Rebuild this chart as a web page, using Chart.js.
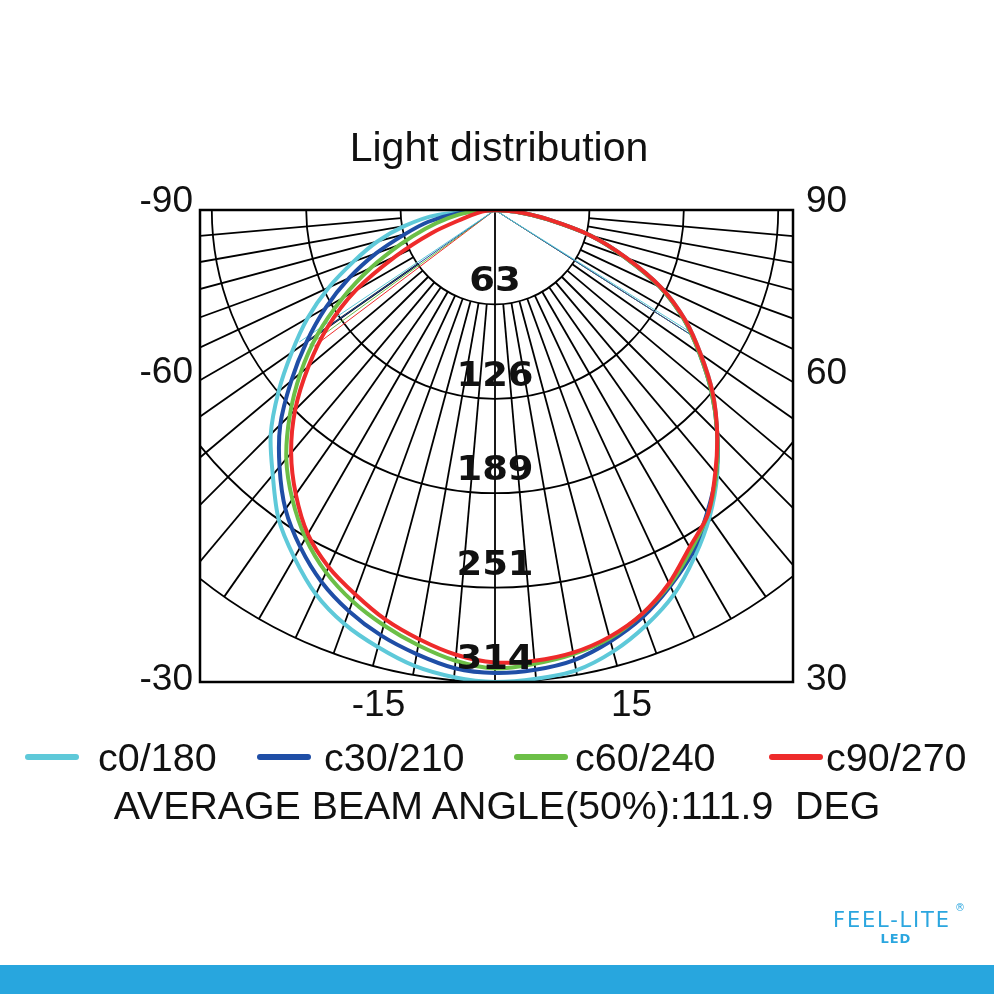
<!DOCTYPE html>
<html>
<head>
<meta charset="utf-8">
<title>Light distribution</title>
<script src="https://cdn.jsdelivr.net/npm/chart.js@4.4.1/dist/chart.umd.min.js"></script>
<style>
  html, body { margin: 0; padding: 0; background: #fff; }
  body { width: 994px; height: 994px; position: relative; overflow: hidden; font-family: "Liberation Sans", Arial, sans-serif; color: #111; }
  #chart { position: absolute; left: 0; top: 0; }
  .title { position: absolute; left: 0; width: 994px; top: 123px; text-align: center; font-size: 41px; line-height: 48px; padding-left: 2px; }
  .legend-line { position: absolute; height: 6px; width: 54px; border-radius: 3px; top: 754px; }
  .legend-text { position: absolute; top: 736px; font-size: 39.5px; line-height: 42px; white-space: nowrap; }
  .footer { position: absolute; left: 0; width: 994px; top: 784px; text-align: center; font-size: 39.3px; line-height: 42px; white-space: pre; }
  .logo { position: absolute; left: 833px; top: 908px; color: #2ba6df; font-family: "DejaVu Sans", sans-serif; }
  .logo .brand { font-size: 21px; letter-spacing: 1.8px; line-height: 24px; }
  .logo .reg { position: absolute; left: 122px; top: -6px; font-size: 10px; }
  .logo .led { font-size: 13px; font-weight: bold; text-align: center; line-height: 14px; letter-spacing: 1px; margin-left: 8px; }
  .bar { position: absolute; left: 0; top: 965px; width: 994px; height: 29px; background: #28a6de; }
</style>
</head>
<body>
<canvas id="chart" width="994" height="994"></canvas>
<div class="title">Light distribution</div>

<div class="legend-line" style="left:25px;background:#5ec9d9"></div>
<div class="legend-text" style="left:98px">c0/180</div>
<div class="legend-line" style="left:257px;background:#1f4ea6"></div>
<div class="legend-text" style="left:324px">c30/210</div>
<div class="legend-line" style="left:514px;background:#6cbf47"></div>
<div class="legend-text" style="left:575px">c60/240</div>
<div class="legend-line" style="left:769px;background:#ee2b2b"></div>
<div class="legend-text" style="left:826px">c90/270</div>

<div class="footer">AVERAGE BEAM ANGLE(50%):111.9  DEG</div>

<div class="logo">
  <div class="brand">FEEL-LITE</div>
  <div class="reg">®</div>
  <div class="led">LED</div>
</div>
<div class="bar"></div>

<script>
// angles in degrees, measured from straight down (0), negative to the left
const angles = [-90, -85, -80, -75, -70, -65, -60, -55, -50, -45, -40, -35, -30, -25, -20, -15, -10, -5,
  0, 5, 10, 15, 20, 25, 30, 35, 40, 45, 50, 55, 60, 65, 70, 75, 80, 85, 90];

// intensity per C-plane
const c0_180  = [0, 39, 61, 81, 100, 122, 144, 165, 188, 211, 230, 251, 267, 282, 293, 301, 308, 312,
  314, 313, 311, 304, 294, 282, 266, 249, 230, 209, 189, 167, 146, 122, 93, 66, 36, 15, 0];
const c30_210 = [0, 24, 45, 62, 84, 107, 130, 153, 177, 202, 223, 243, 259, 273, 284, 293, 300, 306,
  308, 307, 304, 297, 288, 276, 263, 246, 229, 209, 188, 166, 145, 121, 92, 66, 35, 15, 0];
const c60_240 = [0, 18, 32, 48, 67, 91, 117, 144, 169, 193, 216, 235, 252, 266, 277, 286, 294, 301,
  305, 303, 300, 295, 286, 275, 261, 247, 229, 209, 188, 166, 145, 121, 92, 66, 35, 15, 0];
const c90_270 = [0, 5, 12, 22, 45, 73, 107, 136, 162, 188, 211, 231, 249, 262, 272, 282, 290, 297,
  301, 301, 299, 294, 286, 274, 259, 247, 228, 209, 189, 167, 146, 122, 93, 66, 36, 15, 0];

// half-intensity (50%) angles, left and right of each plane
const halfLeft  = [-56, -55, -54, -53];
const halfRight = [58, 57.5, 57.5, 57.5];

const seriesNames  = ['c0/180', 'c30/210', 'c60/240', 'c90/270'];
const seriesColors = ['#5ec9d9', '#1f4ea6', '#6cbf47', '#ee2b2b'];
const seriesValues = [c0_180, c30_210, c60_240, c90_270];

// polar grid
const ringValues = [62.8, 125.6, 188.4, 251.2, 314];
const ringLabels = ['63', '126', '189', '251', '314'];
const maxIntensity = 314;
const leftAngleLabels = [-90, -60, -30];
const rightAngleLabels = [90, 60, 30];
const bottomAngleLabels = [-15, 15];

// layout of the plot box on the 994x994 page
const W = 994, H = 994;
const box = { left: 200, right: 793, top: 210, bottom: 682, originX: 495 };
const pxPerUnit = (box.bottom - box.top) / maxIntensity;

const rad = d => d * Math.PI / 180;
const toXY = (deg, v) => ({ x: v * Math.sin(rad(deg)), y: -v * Math.cos(rad(deg)) });

const datasets = [];
seriesValues.forEach((vals, i) => {
  datasets.push({
    label: seriesNames[i],
    data: angles.map((a, k) => toXY(a, vals[k])),
    showLine: true,
    borderColor: seriesColors[i],
    backgroundColor: seriesColors[i],
    borderWidth: 4,
    pointRadius: 0,
    tension: 0.3,
    order: 3 - i
  });
});
seriesValues.forEach((vals, i) => {
  const half = Math.max(...vals) / 2;
  datasets.push({
    label: seriesNames[i] + ' 50%',
    data: [toXY(halfLeft[i], half), { x: 0, y: 0 }, toXY(halfRight[i], half)],
    showLine: true,
    borderColor: seriesColors[i],
    borderWidth: 1,
    pointRadius: 0,
    tension: 0,
    order: 5
  });
});

const polarGrid = {
  id: 'polarGrid',
  beforeDatasetsDraw(chart) {
    const { ctx, chartArea: a, scales: { x, y } } = chart;
    const ox = x.getPixelForValue(0), oy = y.getPixelForValue(0);
    const k = (y.getPixelForValue(-maxIntensity) - oy) / maxIntensity;
    ctx.save();
    ctx.beginPath();
    ctx.rect(a.left, a.top, a.right - a.left, a.bottom - a.top);
    ctx.clip();
    ctx.strokeStyle = '#000';
    ctx.lineWidth = 1.8;
    ringValues.forEach(v => {
      ctx.beginPath();
      ctx.arc(ox, oy, v * k, 0, Math.PI);
      ctx.stroke();
    });
    for (let deg = -85; deg <= 85; deg += 5) {
      const r0 = deg === 0 ? 0 : ringValues[0];
      const p0 = toXY(deg, r0), p1 = toXY(deg, maxIntensity);
      ctx.beginPath();
      ctx.moveTo(x.getPixelForValue(p0.x), y.getPixelForValue(p0.y));
      ctx.lineTo(x.getPixelForValue(p1.x), y.getPixelForValue(p1.y));
      ctx.stroke();
    }
    ctx.restore();
  },
  afterDatasetsDraw(chart) {
    const { ctx, chartArea: a, scales: { x, y } } = chart;
    ctx.save();
    // box
    ctx.strokeStyle = '#000';
    ctx.lineWidth = 2.5;
    ctx.strokeRect(a.left, a.top, a.right - a.left, a.bottom - a.top);

    // ring values, wide bold digits
    ctx.fillStyle = '#111';
    ctx.font = 'bold 33px "DejaVu Sans", sans-serif';
    ctx.textAlign = 'center';
    ctx.textBaseline = 'alphabetic';
    const cx = x.getPixelForValue(0);
    ringValues.forEach((v, i) => {
      ctx.save();
      ctx.translate(cx, y.getPixelForValue(-v) - 13);
      ctx.scale(1.12, 1);
      ctx.fillText(ringLabels[i], 0, 0);
      ctx.restore();
    });

    // angle labels where the spokes leave the box
    ctx.font = '37px "Liberation Sans", Arial, sans-serif';
    ctx.textBaseline = 'middle';
    const sideY = deg => {
      const t = rad(Math.abs(deg));
      const dx = (deg < 0 ? cx - a.left : a.right - cx);
      const py = a.top + (Math.abs(Math.cos(t)) < 1e-9 ? 0 : dx / Math.tan(t));
      return Math.min(py - 8, a.bottom - 2);
    };
    ctx.textAlign = 'right';
    leftAngleLabels.forEach(d => ctx.fillText(String(d), a.left - 7, sideY(d)));
    ctx.textAlign = 'left';
    rightAngleLabels.forEach(d => ctx.fillText(String(d), a.right + 13, sideY(d)));
    ctx.textAlign = 'center';
    bottomAngleLabels.forEach(d => {
      const px = cx + (a.bottom - a.top) * Math.tan(rad(d)) + 10;
      ctx.fillText(String(d), px, a.bottom + 24);
    });
    ctx.restore();
  }
};

new Chart(document.getElementById('chart'), {
  type: 'scatter',
  data: { datasets },
  options: {
    responsive: false,
    animation: false,
    devicePixelRatio: 1,
    layout: { padding: { left: box.left, right: W - box.right, top: box.top, bottom: H - box.bottom } },
    scales: {
      x: { type: 'linear', display: false, min: (box.left - box.originX) / pxPerUnit, max: (box.right - box.originX) / pxPerUnit },
      y: { type: 'linear', display: false, min: -maxIntensity, max: 0 }
    },
    plugins: { legend: { display: false }, tooltip: { enabled: false }, title: { display: false } },
    elements: { point: { radius: 0 } }
  },
  plugins: [polarGrid]
});
</script>
</body>
</html>
